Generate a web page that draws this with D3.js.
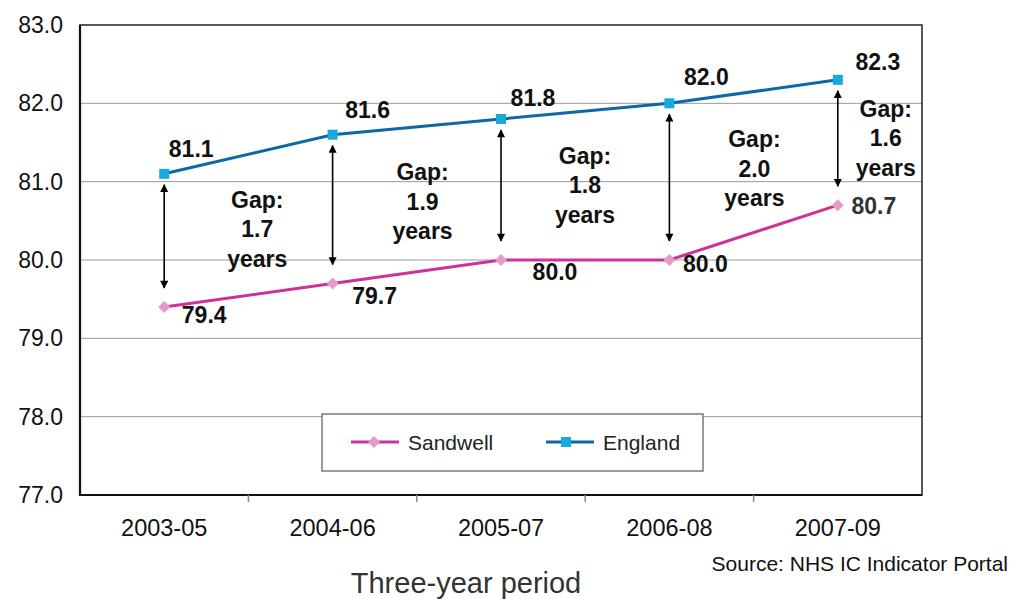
<!DOCTYPE html>
<html>
<head>
<meta charset="utf-8">
<script src="https://cdn.jsdelivr.net/npm/d3@7"></script>
<style>
  html, body { margin: 0; padding: 0; background: #fff; }
  svg { display: block; font-family: "Liberation Sans", Arial, sans-serif; }
</style>
</head>
<body>
<svg id="chart" width="1014" height="599"></svg>
<script>
// Life expectancy (years), three-year periods
const periods = ["2003-05", "2004-06", "2005-07", "2006-08", "2007-09"];
const sandwell = [79.4, 79.7, 80.0, 80.0, 80.7];
const england = [81.1, 81.6, 81.8, 82.0, 82.3];
const gaps = ["1.7", "1.9", "1.8", "2.0", "1.6"];
const yTicks = [77, 78, 79, 80, 81, 82, 83];

const svg = d3.select("#chart");
const plot = { left: 80, right: 922, top: 25, bottom: 495 };

const x = d3.scaleBand().domain(periods).range([plot.left, plot.right]).paddingInner(0).paddingOuter(0);
const cx = p => x(p) + x.bandwidth() / 2;
const y = d3.scaleLinear().domain([77, 83]).range([plot.bottom, plot.top]);

const C = {
  engLine: "#0E68A6", engMark: "#19AADC",
  sanLine: "#CC3399", sanMark: "#E69AC6",
  grid: "#9a9a9a"
};

// gridlines
svg.append("g").selectAll("line").data(yTicks.filter(t => t > 77 && t < 83)).join("line")
  .attr("x1", plot.left).attr("x2", plot.right)
  .attr("y1", d => y(d)).attr("y2", d => y(d))
  .attr("stroke", C.grid).attr("stroke-width", 1);

// frame
svg.append("rect").attr("x", plot.left).attr("y", plot.top)
  .attr("width", plot.right - plot.left).attr("height", plot.bottom - plot.top)
  .attr("fill", "none").attr("stroke", "#222").attr("stroke-width", 1.5);
svg.append("path").attr("d", `M${plot.left},${plot.top}V${plot.bottom}H${plot.right}`)
  .attr("fill", "none").attr("stroke", "#111").attr("stroke-width", 2.2);

// y axis labels
const yAxis = d3.axisLeft(y).tickValues(yTicks).tickFormat(d3.format(".1f")).tickSize(0).tickPadding(17);
const gy = svg.append("g").attr("transform", `translate(${plot.left},0)`).call(yAxis);
gy.select(".domain").remove();
gy.selectAll("text").attr("font-size", 23).attr("fill", "#111").attr("font-family", "Liberation Sans, Arial, sans-serif");

// x axis: category ticks sit between periods
const xAxis = d3.axisBottom(x).tickSize(0).tickPadding(24);
const gx = svg.append("g").attr("transform", `translate(0,${plot.bottom})`).call(xAxis);
gx.select(".domain").remove();
gx.selectAll("text").attr("font-size", 23.5).attr("fill", "#111").attr("font-family", "Liberation Sans, Arial, sans-serif");
svg.append("g").selectAll("line").data(periods.slice(1)).join("line")
  .attr("x1", d => x(d)).attr("x2", d => x(d))
  .attr("y1", plot.bottom).attr("y2", plot.bottom + 7)
  .attr("stroke", "#888").attr("stroke-width", 1.5);

// arrowhead
const defs = svg.append("defs");
["s", "e"].forEach(id => {
  defs.append("marker").attr("id", "arr-" + id)
    .attr("viewBox", "0 0 10 10").attr("refX", 9).attr("refY", 5)
    .attr("markerWidth", 10).attr("markerHeight", 8).attr("markerUnits", "userSpaceOnUse")
    .attr("orient", id === "s" ? "auto-start-reverse" : "auto")
    .append("path").attr("d", "M0,0L10,5L0,10Z").attr("fill", "#000");
});

// gap arrows between England and Sandwell
svg.append("g").selectAll("line").data(periods).join("line")
  .attr("x1", d => cx(d)).attr("x2", d => cx(d))
  .attr("y1", (d, i) => y(england[i]) + 11)
  .attr("y2", (d, i) => y(sandwell[i]) - 19)
  .attr("stroke", "#000").attr("stroke-width", 1.6)
  .attr("marker-start", "url(#arr-s)").attr("marker-end", "url(#arr-e)");

// series lines
const line = d3.line().x((d, i) => cx(periods[i])).y(d => y(d));
svg.append("path").datum(sandwell).attr("d", line)
  .attr("fill", "none").attr("stroke", C.sanLine).attr("stroke-width", 3);
svg.append("path").datum(england).attr("d", line)
  .attr("fill", "none").attr("stroke", C.engLine).attr("stroke-width", 3);

// markers
const diamond = (px, py, r) => `M${px},${py - r}L${px + r},${py}L${px},${py + r}L${px - r},${py}Z`;
svg.append("g").selectAll("path").data(sandwell).join("path")
  .attr("d", (d, i) => diamond(cx(periods[i]), y(d), 6))
  .attr("fill", C.sanMark);
svg.append("g").selectAll("rect").data(england).join("rect")
  .attr("x", (d, i) => cx(periods[i]) - 5).attr("y", d => y(d) - 5)
  .attr("width", 10).attr("height", 10).attr("fill", C.engMark);

// value labels
const engOff = [[27, -17], [35, -17], [32, -13], [37, -18], [40, -10]];
const sanOff = [[40, 16], [42, 20], [54, 20], [36, 12], [36, 9]];
const lbl = svg.append("g").attr("font-size", 23).attr("font-weight", "bold").attr("fill", "#111").attr("text-anchor", "middle");
lbl.selectAll("text.e").data(england).join("text").attr("class", "e")
  .attr("x", (d, i) => cx(periods[i]) + engOff[i][0])
  .attr("y", (d, i) => y(d) + engOff[i][1])
  .text(d => d3.format(".1f")(d));
lbl.selectAll("text.s").data(sandwell).join("text").attr("class", "s")
  .attr("x", (d, i) => cx(periods[i]) + sanOff[i][0])
  .attr("y", (d, i) => y(d) + sanOff[i][1])
  .attr("fill", (d, i) => i === 4 ? "#333" : "#111")
  .text(d => d3.format(".1f")(d));

// gap annotations: [x offset from period centre, value of middle line]
const gapPos = [[93, 80.40], [90, 80.75], [84, 80.96], [85, 81.17], [48, 81.56]];
const gapG = svg.append("g").attr("font-size", 23).attr("font-weight", "bold").attr("fill", "#111").attr("text-anchor", "middle");
gaps.forEach((g, i) => {
  const gx0 = cx(periods[i]) + gapPos[i][0];
  const gy0 = y(gapPos[i][1]);
  const t = gapG.append("text").attr("x", gx0).attr("y", gy0 + 8);
  ["Gap:", g, "years"].forEach((s, k) => {
    t.append("tspan").attr("x", gx0).attr("dy", k === 0 ? -29 : 29.5).text(s);
  });
});

// legend
const lg = svg.append("g");
lg.append("rect").attr("x", 322).attr("y", 414).attr("width", 381).attr("height", 57)
  .attr("fill", "#fff").attr("stroke", "#666").attr("stroke-width", 1.3);
const legendItems = [
  { name: "Sandwell", line: C.sanLine, mark: C.sanMark, shape: "diamond", x0: 351 },
  { name: "England", line: C.engLine, mark: C.engMark, shape: "square", x0: 546 }
];
legendItems.forEach(it => {
  const ly = 442;
  lg.append("line").attr("x1", it.x0).attr("x2", it.x0 + 48).attr("y1", ly).attr("y2", ly)
    .attr("stroke", it.line).attr("stroke-width", 3);
  if (it.shape === "diamond") {
    lg.append("path").attr("d", diamond(it.x0 + 23, ly, 6)).attr("fill", it.mark);
  } else {
    lg.append("rect").attr("x", it.x0 + 20 - 5).attr("y", ly - 5).attr("width", 10).attr("height", 10).attr("fill", it.mark);
  }
  lg.append("text").attr("x", it.x0 + 57).attr("y", ly + 7.5)
    .attr("font-size", 21).attr("fill", "#222").text(it.name);
});

// axis title and source
svg.append("text").attr("x", 466).attr("y", 593).attr("text-anchor", "middle")
  .attr("font-size", 29).attr("fill", "#333").text("Three-year period");
svg.append("text").attr("x", 1008).attr("y", 571).attr("text-anchor", "end")
  .attr("font-size", 21).attr("fill", "#111").text("Source: NHS IC Indicator Portal");
</script>
</body>
</html>
